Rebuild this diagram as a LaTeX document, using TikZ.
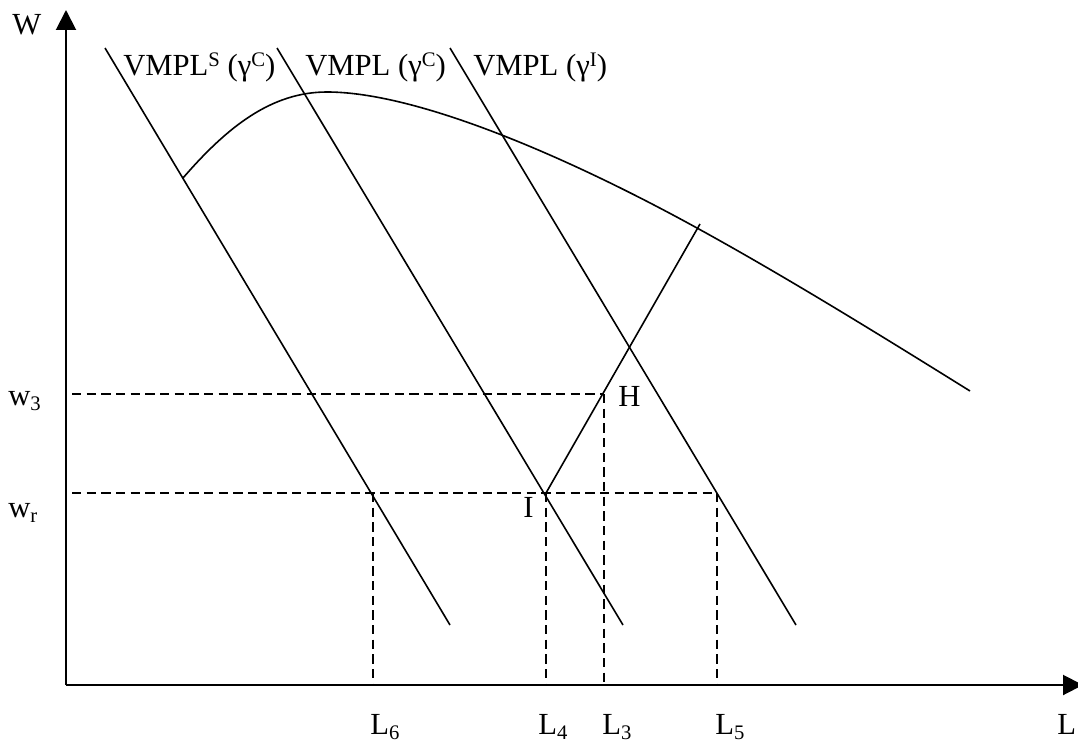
\documentclass[tikz,border=0pt]{standalone}
\usepackage{fontspec}
\setmainfont{Liberation Serif}
\usetikzlibrary{arrows.meta}
\newcommand{\mysub}[1]{\raisebox{-0.17em}{\fontsize{15.5}{15.5}\selectfont #1}}
\newcommand{\mysup}[1]{\raisebox{0.28em}{\fontsize{15.5}{15.5}\selectfont #1}}
\begin{document}
\begin{tikzpicture}[x=0.75pt,y=-0.75pt,
  axis/.style={line width=1.5pt,-{Triangle[length=15pt,width=15pt]}},
  curveline/.style={line width=1.2pt},
  guide/.style={line width=1.1pt,dash pattern=on 7pt off 4pt},
  lbl/.style={anchor=base west,inner sep=0pt,font=\fontsize{23}{27}\selectfont}]
\useasboundingbox (0,0) rectangle (1078,742);
% key points
\coordinate (O) at (66,685);
\coordinate (Ytip) at (66,10);
\coordinate (Xtip) at (1083,685);
\coordinate (I) at (546,493);
\coordinate (H) at (604,394);
\coordinate (P6) at (373,493);
\coordinate (P5) at (717,493);
\coordinate (W3L) at (72,394);
\coordinate (WRL) at (72,493);
\coordinate (B6) at (373,685);
\coordinate (B4) at (546,685);
\coordinate (B3) at (604,685);
\coordinate (B5) at (717,685);
\coordinate (Rtop) at (700,224);
\coordinate (A1) at (105,48);
\coordinate (A2) at (450,625);
\coordinate (C1) at (277,48);
\coordinate (C2) at (623,625);
\coordinate (D1) at (450,48);
\coordinate (D2) at (796,625);
\coordinate (K0) at (183,178);
\coordinate (K1) at (327,92);
\coordinate (K2) at (697,228);
\coordinate (K3) at (970,391);
% axes
\draw[axis] (O) -- (Ytip);
\draw[axis] (O) -- (Xtip);
% VMPL lines
\draw[curveline] (A1) -- (A2);
\draw[curveline] (C1) -- (C2);
\draw[curveline] (D1) -- (D2);
% wage curve
\draw[curveline] (K0) .. controls (228,126) and (272,92) .. (K1)
  .. controls (417,92) and (567,156.5) .. (K2)
  .. controls (787,277.5) and (880,335) .. (K3);
% rising segment
\draw[curveline] (I) -- (Rtop);
% dashed guides
\draw[guide] (W3L) -- (H);
\draw[guide] (H) -- (B3);
\draw[guide] (WRL) -- (P5);
\draw[guide] (P6) -- (B6);
\draw[guide] (I) -- (B4);
\draw[guide] (P5) -- (B5);
% labels
\node[lbl] (lW) at (12,35) {W};
\node[lbl] (lL) at (1057,734) {L};
\node[lbl] (lv1) at (123,75) {VMPL\mysup{S} (γ\mysup{C})};
\node[lbl] (lv2) at (305,75) {VMPL (γ\mysup{C})};
\node[lbl] (lv3) at (473,75) {VMPL (γ\mysup{I})};
\node[lbl] (lw3) at (8,405) {w\mysub{3}};
\node[lbl] (lwr) at (8,517) {w\mysub{r}};
\node[lbl] (lI) at (523,517) {I};
\node[lbl] (lH) at (618,406) {H};
\node[lbl] (l6) at (370,734) {L\mysub{6}};
\node[lbl] (l4) at (538,734) {L\mysub{4}};
\node[lbl] (l3) at (602,734) {L\mysub{3}};
\node[lbl] (l5) at (715,734) {L\mysub{5}};
\end{tikzpicture}
\end{document}
